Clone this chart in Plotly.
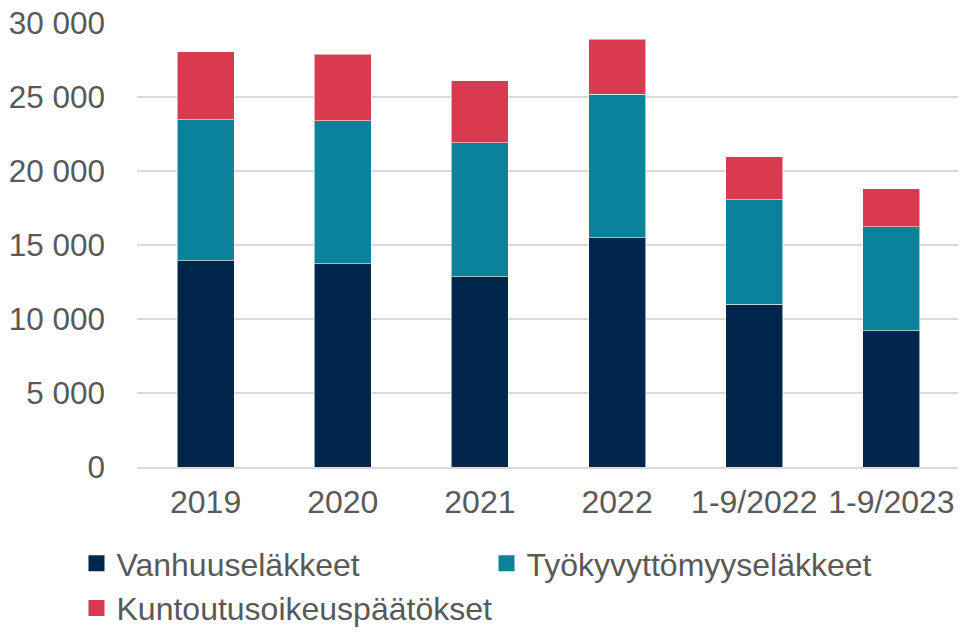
import plotly.graph_objects as go

categories = ["2019", "2020", "2021", "2022", "1-9/2022", "1-9/2023"]
vanhuus = [13950, 13750, 12850, 15500, 11000, 9200]
tyokyvyttomyys = [9500, 9650, 9050, 9700, 7050, 7050]
kuntoutus = [4600, 4500, 4200, 3700, 2900, 2550]

series = [
    ("Vanhuuseläkkeet", vanhuus, "#00264B"),
    ("Työkyvyttömyyseläkkeet", tyokyvyttomyys, "#0A8299"),
    ("Kuntoutusoikeuspäätökset", kuntoutus, "#D83A50"),
]

fig = go.Figure()
for name, vals, color in series:
    fig.add_trace(go.Bar(
        x=categories, y=vals, name=name, showlegend=False, legendgroup=name,
        marker=dict(color=color, line=dict(color="rgba(255,255,255,0.55)", width=1)),
    ))
# legend entries with larger square swatches
for name, vals, color in series:
    fig.add_trace(go.Scatter(
        x=[None], y=[None], name=name, legendgroup=name, mode="markers",
        marker=dict(symbol="square", size=16, color=color),
        hoverinfo="skip",
    ))

W, H = 958, 628  # page body has an 8px margin
font_family = "Liberation Sans, Arial, sans-serif"
fig.update_layout(
    barmode="stack",
    bargap=0.585,
    width=W, height=H,
    margin=dict(l=129, r=6, t=15, b=169, autoexpand=False),
    paper_bgcolor="white", plot_bgcolor="white",
    separators=", ",
    font=dict(family=font_family, size=32, color="#595959"),
    showlegend=True,
    legend=dict(
        orientation="h",
        x=68.5 / W, xref="container", xanchor="left",
        y=100 / H, yref="container", yanchor="top",
        font=dict(size=32, color="#595959"),
        entrywidth=365, entrywidthmode="pixels",
        traceorder="normal",
        tracegroupgap=0,
        itemsizing="trace",
    ),
    xaxis=dict(
        showline=True, linecolor="#D9D9D9", linewidth=2,
        ticks="", tickfont=dict(size=32),
        ticklabelstandoff=6,
    ),
    yaxis=dict(
        range=[0, 30000], dtick=5000, tickformat=",d",
        showgrid=True, gridcolor="#D9D9D9", gridwidth=2,
        zeroline=False, showline=False,
        ticks="", tickfont=dict(size=31.5),
        ticklabelstandoff=31, ticklabeloverflow="allow",
    ),
)

fig.write_html("out.html")
